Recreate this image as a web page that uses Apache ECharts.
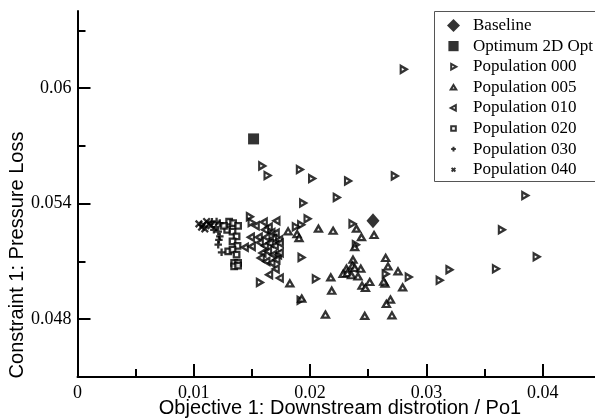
<!DOCTYPE html>
<html>
<head>
<meta charset="utf-8">
<script src="https://cdn.jsdelivr.net/npm/echarts@6/dist/echarts.min.js"></script>
<style>
  html, body { margin: 0; padding: 0; background: #fff; }
  #chart { width: 595px; height: 419px; }
</style>
</head>
<body>
<div id="chart"></div>
<script>
// Design points: [Objective 1 (downstream distortion / Po1), Constraint 1 (pressure loss)]
const baseline = [[0.02541, 0.05311]];
const optimum2D = [[0.01514, 0.05736]];

const pop000 = [
  [0.02805, 0.06097], [0.01588, 0.05596], [0.01634, 0.05546], [0.01912, 0.05577],
  [0.02017, 0.05530], [0.02326, 0.05518], [0.02229, 0.05432], [0.01940, 0.05403],
  [0.02728, 0.05544], [0.03850, 0.05442], [0.03649, 0.05264], [0.03948, 0.05124],
  [0.03598, 0.05062], [0.03198, 0.05057], [0.03114, 0.05002], [0.02848, 0.05019],
  [0.01978, 0.05321], [0.01923, 0.05290], [0.01877, 0.05280], [0.02364, 0.05295],
  [0.01926, 0.05121], [0.02650, 0.05035], [0.02049, 0.05010], [0.01918, 0.04898],
  [0.01568, 0.04991], [0.01482, 0.05332], [0.01497, 0.05302], [0.02393, 0.05187]
];

const pop005 = [
  [0.01811, 0.05256], [0.01888, 0.05242], [0.01905, 0.05221], [0.02072, 0.05270],
  [0.02198, 0.05259], [0.02399, 0.05270], [0.02442, 0.05226], [0.02550, 0.05237],
  [0.02384, 0.05174], [0.02369, 0.05109], [0.02364, 0.05078], [0.02313, 0.05062],
  [0.02384, 0.05066], [0.02436, 0.05062], [0.02284, 0.05035], [0.02321, 0.05040],
  [0.02356, 0.05028], [0.02412, 0.05022], [0.02650, 0.05118], [0.02670, 0.05074],
  [0.02756, 0.05048], [0.02644, 0.04985], [0.02633, 0.04995], [0.02513, 0.04993],
  [0.02447, 0.04974], [0.02476, 0.04962], [0.02796, 0.04965], [0.01826, 0.04986],
  [0.02178, 0.05017], [0.02186, 0.04948], [0.02691, 0.04902], [0.02656, 0.04879],
  [0.02132, 0.04824], [0.02470, 0.04817], [0.02704, 0.04820], [0.01928, 0.04907]
];

const pop010 = [
  [0.01602, 0.05304], [0.01711, 0.05311], [0.01645, 0.05278], [0.01613, 0.05264],
  [0.01668, 0.05250], [0.01705, 0.05247], [0.01491, 0.05226], [0.01559, 0.05226],
  [0.01625, 0.05226], [0.01682, 0.05218], [0.01734, 0.05212], [0.01439, 0.05173],
  [0.01499, 0.05178], [0.01568, 0.05198], [0.01611, 0.05181], [0.01654, 0.05195],
  [0.01697, 0.05181], [0.01740, 0.05195], [0.01591, 0.05144], [0.01639, 0.05152],
  [0.01682, 0.05135], [0.01725, 0.05135], [0.01576, 0.05118], [0.01625, 0.05100],
  [0.01668, 0.05092], [0.01711, 0.05109], [0.01648, 0.05031], [0.01705, 0.05061],
  [0.01740, 0.05014], [0.01740, 0.05145], [0.01533, 0.05285]
];

const pop020 = [
  [0.01304, 0.05306], [0.01338, 0.05299], [0.01381, 0.05285], [0.01287, 0.05264],
  [0.01333, 0.05255], [0.01368, 0.05230], [0.01333, 0.05204], [0.01376, 0.05181],
  [0.01296, 0.05152], [0.01333, 0.05161], [0.01368, 0.05135], [0.01347, 0.05092],
  [0.01381, 0.05092], [0.01347, 0.05074], [0.01381, 0.05078], [0.01259, 0.05285]
];

const pop030 = [
  [0.01196, 0.05307], [0.01224, 0.05299], [0.01190, 0.05278], [0.01210, 0.05255],
  [0.01224, 0.05230], [0.01210, 0.05187], [0.01239, 0.05147], [0.01156, 0.05306],
  [0.01173, 0.05264], [0.01216, 0.05212]
];

const pop040 = [
  [0.01067, 0.05278], [0.01081, 0.05290], [0.01110, 0.05307], [0.01132, 0.05295],
  [0.01095, 0.05269], [0.01147, 0.05285], [0.01044, 0.05295]
];

// Axis ranges and tick positions
const xRange = [0, 0.0445];
const yRange = [0.045, 0.064];
const xMajorTicks = [0, 0.01, 0.02, 0.03, 0.04];
const xMinorTicks = [0.005, 0.015, 0.025, 0.035];
const yMajorTicks = [0.048, 0.054, 0.06];
const yMinorTicks = [0.051, 0.057, 0.063];

const seriesNames = [
  'Baseline', 'Optimum 2D Opt', 'Population 000', 'Population 005',
  'Population 010', 'Population 020', 'Population 030', 'Population 040'
];

// Marker shapes
const TRI_RIGHT = 'path://M0,0L10,5L0,10Z';
const TRI_UP = 'path://M5,0L10,9L0,9Z';
const TRI_LEFT = 'path://M10,0L0,5L10,10Z';
const PLUS = 'path://M5,0L5,10M0,5L10,5';
const CROSS = 'path://M0,0L10,10M10,0L0,10';

// Legend icons with some empty margin so the small markers stay small
const LEG_TRI_RIGHT = 'path://M0,0M14,14M4.5,4L10,7L4.5,10Z';
const LEG_TRI_UP = 'path://M0,0M14,14M7,4.5L10,9.5L4,9.5Z';
const LEG_TRI_LEFT = 'path://M0,0M14,14M9.5,4L4,7L9.5,10Z';
const LEG_SQUARE = 'path://M0,0M14,14M4.5,4.5L9.5,4.5L9.5,9.5L4.5,9.5Z';
const LEG_PLUS = 'path://M0,0M14,14M7,4.5L7,9.5M4.5,7L9.5,7';
const LEG_CROSS = 'path://M0,0M14,14M5,5L9,9M9,5L5,9';

const hollow = { color: '#fff', borderColor: '#000', borderWidth: 2.3 };
const strokeOnly = { color: 'rgba(0,0,0,0)', borderColor: '#000', borderWidth: 2.3 };

function scatter(name, data, symbol, size, itemStyle) {
  return {
    name: name,
    type: 'scatter',
    data: data,
    symbol: symbol,
    symbolSize: size,
    itemStyle: itemStyle,
    emphasis: { disabled: true },
    animation: false
  };
}

const serifFont = 'Liberation Serif';
const sansFont = 'Liberation Sans';

const chart = echarts.init(document.getElementById('chart'), null, { renderer: 'canvas' });

const option = {
  backgroundColor: '#fff',
  animation: false,
  grid: { left: 77.5, right: 0, top: 11, bottom: 42, containLabel: false },
  xAxis: [
    {
      type: 'value', min: xRange[0], max: xRange[1], position: 'bottom',
      axisLine: { show: true, lineStyle: { color: '#000', width: 2 } },
      axisTick: { show: true, inside: true, length: 13, customValues: xMajorTicks,
                  lineStyle: { color: '#000', width: 2 } },
      axisLabel: { show: true, customValues: xMajorTicks, margin: 7,
                   formatter: v => String(v),
                   fontFamily: serifFont, fontSize: 18, color: '#000' },
      splitLine: { show: false }
    },
    {
      type: 'value', min: xRange[0], max: xRange[1], position: 'bottom',
      axisLine: { show: false },
      axisTick: { show: true, inside: true, length: 8, customValues: xMinorTicks,
                  lineStyle: { color: '#000', width: 2 } },
      axisLabel: { show: false },
      splitLine: { show: false }
    }
  ],
  yAxis: [
    {
      type: 'value', min: yRange[0], max: yRange[1], position: 'left',
      axisLine: { show: true, lineStyle: { color: '#000', width: 2 } },
      axisTick: { show: true, inside: true, length: 13, customValues: yMajorTicks,
                  lineStyle: { color: '#000', width: 2 } },
      axisLabel: { show: true, customValues: yMajorTicks, margin: 6,
                   formatter: v => String(v),
                   fontFamily: serifFont, fontSize: 18, color: '#000' },
      splitLine: { show: false }
    },
    {
      type: 'value', min: yRange[0], max: yRange[1], position: 'left',
      axisLine: { show: false },
      axisTick: { show: true, inside: true, length: 8, customValues: yMinorTicks,
                  lineStyle: { color: '#000', width: 2 } },
      axisLabel: { show: false },
      splitLine: { show: false }
    }
  ],
  legend: {
    orient: 'vertical',
    left: 434,
    top: 11,
    padding: [6, 0, 6, 12],
    itemWidth: 13,
    itemHeight: 13,
    itemGap: 3.6,
    selectedMode: false,
    formatter: name => '{t|' + name + '}',
    textStyle: {
      rich: { t: { fontFamily: serifFont, fontSize: 17, color: '#000', padding: [0, 0, 0, 8], lineHeight: 14 } }
    },
    data: [
      { name: seriesNames[0], icon: 'diamond' },
      { name: seriesNames[1], icon: 'path://M0,0M14,14M1.5,1.5L12.5,1.5L12.5,12.5L1.5,12.5Z' },
      { name: seriesNames[2], icon: LEG_TRI_RIGHT },
      { name: seriesNames[3], icon: LEG_TRI_UP },
      { name: seriesNames[4], icon: LEG_TRI_LEFT },
      { name: seriesNames[5], icon: LEG_SQUARE },
      { name: seriesNames[6], icon: LEG_PLUS },
      { name: seriesNames[7], icon: LEG_CROSS }
    ]
  },
  graphic: [
    {
      // legend frame, open on the right where it runs off the canvas
      type: 'rect',
      z: -1,
      shape: { x: 434.5, y: 11.5, width: 200, height: 170 },
      style: { fill: '#fff', stroke: '#555', lineWidth: 1 }
    },
    {
      type: 'text',
      x: 340, y: 408,
      style: {
        text: 'Objective 1: Downstream distrotion / Po1',
        x: 0, y: 0, align: 'center', verticalAlign: 'middle',
        fontFamily: sansFont, fontSize: 20, fill: '#000'
      }
    },
    {
      type: 'text',
      x: 17, y: 255, rotation: Math.PI / 2,
      style: {
        text: 'Constraint 1: Pressure Loss',
        x: 0, y: 0, align: 'center', verticalAlign: 'middle',
        fontFamily: sansFont, fontSize: 20, fill: '#000'
      }
    }
  ],
  series: [
    scatter(seriesNames[2], pop000, TRI_RIGHT, [6, 7], hollow),
    scatter(seriesNames[3], pop005, TRI_UP, [7, 6], hollow),
    scatter(seriesNames[4], pop010, TRI_LEFT, [6, 7], hollow),
    scatter(seriesNames[5], pop020, 'rect', 5.5, hollow),
    scatter(seriesNames[6], pop030, PLUS, 7.5, strokeOnly),
    scatter(seriesNames[7], pop040, CROSS, 6.5, strokeOnly),
    scatter(seriesNames[0], baseline, 'diamond', [13, 15], { color: '#000' }),
    scatter(seriesNames[1], optimum2D, 'rect', 11, { color: '#000' })
  ]
};

chart.setOption(option);
</script>
</body>
</html>
